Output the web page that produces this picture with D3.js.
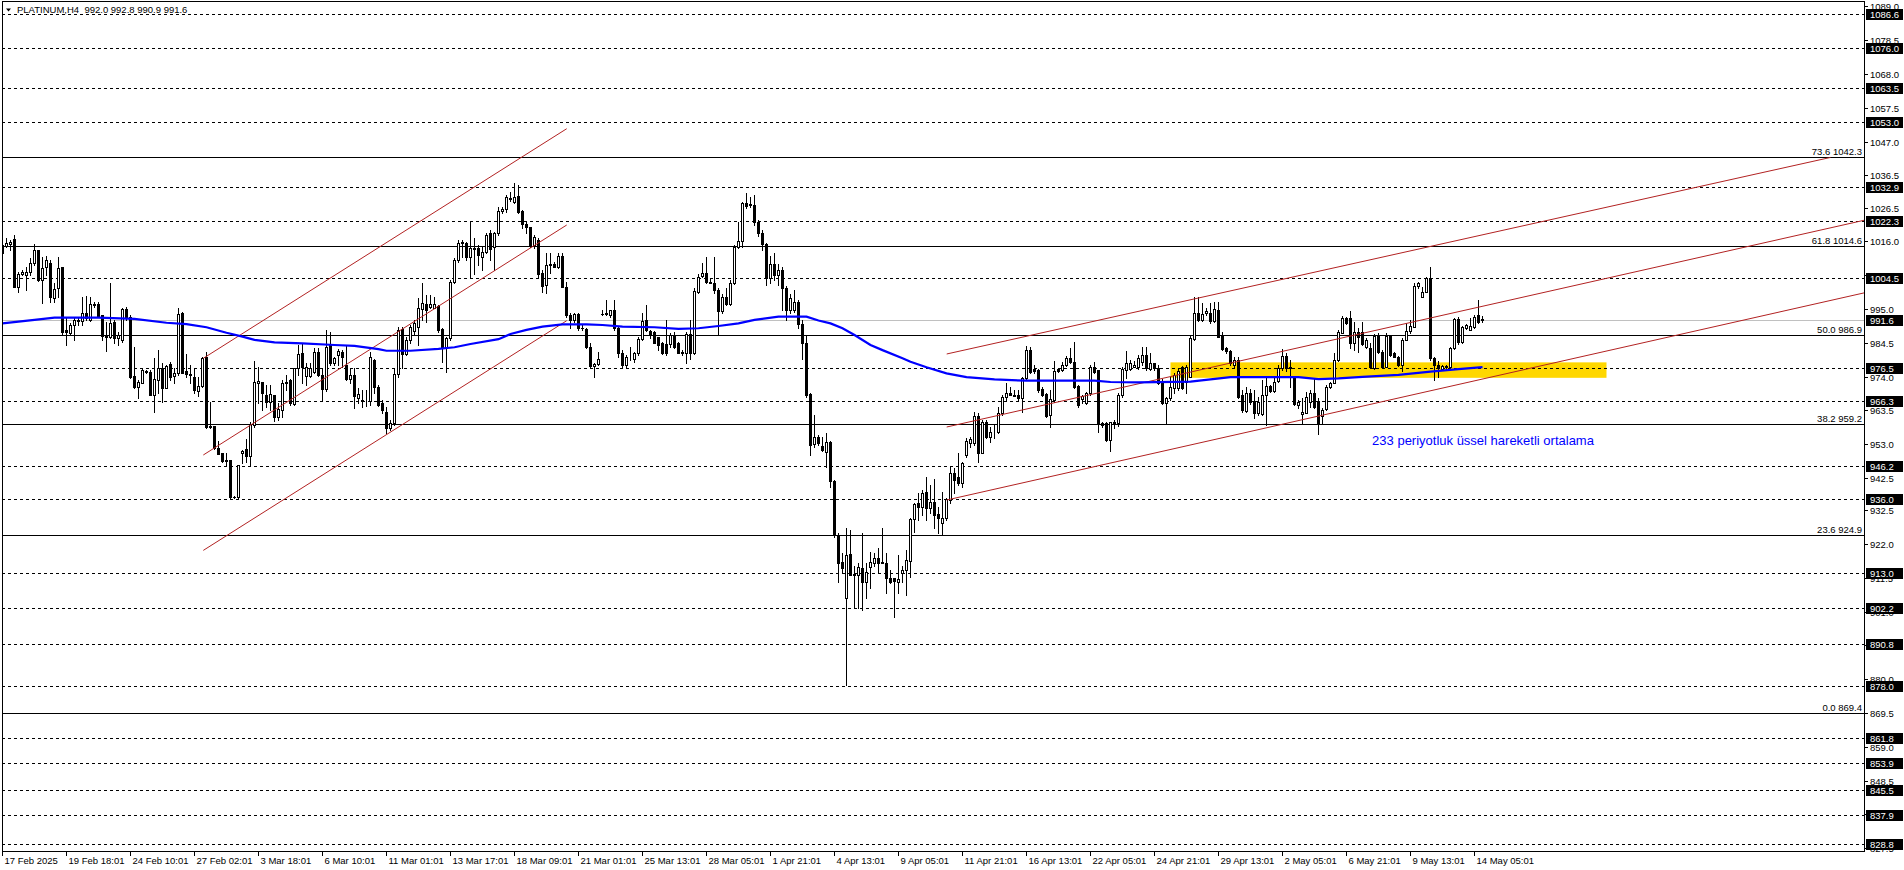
<!DOCTYPE html>
<html><head><meta charset="utf-8">
<script src="https://cdn.jsdelivr.net/npm/d3@7"></script>
<style>
html,body{margin:0;padding:0;background:#fff;overflow:hidden}
svg{display:block}
text{font-family:"Liberation Sans",Arial,sans-serif}
</style>
</head><body>
<svg id="chart" width="1904" height="870"></svg>
<script>
// ---------------- DATA ----------------
const symbolTitle = "PLATINUM,H4";
const opens = [
1012.3,1014.5,1015.3,1016.6,1001.9,1005.9,1005.6,1006.6,1009.4,1013.3,
1004.0,1007.9,1009.2,998.3,1001.4,1007.9,988.5,987.4,990.0,991.1,
991.4,993.8,991.6,996.5,996.5,993.1,986.9,986.2,991.0,985.9,
985.2,994.9,992.6,974.2,970.9,972.1,975.8,975.5,968.3,972.9,
976.6,970.4,977.9,974.2,975.0,993.8,975.7,974.7,973.8,969.6,
971.0,980.0,958.5,958.6,951.7,950.1,948.1,948.1,936.7,936.7,
950.2,951.4,949.3,959.0,971.9,972.2,968.3,966.2,968.3,961.5,
963.6,972.1,972.9,965.5,976.6,981.4,974.2,974.2,975.5,981.7,
974.5,970.0,984.1,978.1,980.7,981.7,977.6,973.1,974.5,967.2,
966.8,966.6,966.5,979.0,970.6,965.7,963.1,957.9,959.5,974.8,
988.7,981.0,985.4,988.0,989.5,995.0,996.5,995.5,995.2,995.9,
988.7,983.3,985.9,1003.5,1010.2,1015.6,1015.6,1011.2,1013.8,1013.8,
1011.2,1012.8,1018.5,1014.3,1018.7,1025.5,1025.9,1029.5,1028.3,1030.1,
1025.4,1021.4,1020.3,1014.8,1016.4,1006.2,1002.4,1008.6,1008.9,1007.9,
1011.4,1001.9,993.1,991.6,993.4,989.2,988.9,983.1,977.3,977.9,
993.4,993.4,993.1,994.7,989.0,981.2,977.6,980.0,979.4,981.4,
985.6,991.6,988.0,987.7,986.4,984.3,984.0,984.2,986.6,984.3,
981.7,981.2,987.2,981.2,1000.4,1005.2,1006.3,1003.5,1002.9,1000.9,
994.2,998.8,996.6,1002.9,1014.3,1016.2,1027.8,1027.2,1027.3,1022.1,
1018.5,1015.2,1004.5,1009.0,1005.5,1007.0,1001.4,994.7,994.7,997.0,
990.3,984.3,968.6,953.1,955.1,952.4,950.7,953.8,941.4,924.8,
916.5,905.1,918.9,912.7,912.4,914.4,910.3,914.7,916.2,917.5,
916.3,916.0,911.3,911.3,910.3,912.9,913.9,916.8,929.6,934.6,
933.6,938.2,933.1,935.1,931.3,928.6,930.0,935.7,944.1,942.9,
940.8,949.6,953.3,953.3,961.8,950.4,960.0,955.3,957.0,956.9,
962.6,967.5,968.8,968.3,968.3,967.2,973.4,982.2,976.2,976.0,
970.0,968.6,962.1,966.7,976.2,976.0,977.6,979.7,978.6,971.1,
966.9,965.9,968.8,976.9,976.0,959.7,959.5,954.3,960.0,959.5,
968.3,976.0,976.2,977.1,976.9,978.6,980.7,976.2,978.1,976.6,
972.4,965.7,967.2,970.3,970.3,977.1,972.4,974.0,985.6,993.8,
991.6,993.6,993.8,991.4,994.7,986.9,982.8,982.0,977.6,979.1,
968.3,963.4,968.8,966.5,962.6,962.4,968.3,971.1,969.6,972.7,
976.6,980.4,976.5,973.4,965.2,962.4,962.8,966.2,968.8,966.5,
961.6,963.8,970.6,972.1,979.1,987.6,992.1,992.1,984.3,987.9,
987.9,983.3,982.8,976.6,986.6,981.7,977.1,986.6,981.2,980.2,
977.6,985.4,988.0,989.5,1002.1,998.8,1000.4,1004.5,979.7,977.6,
976.2,977.3,976.9,982.8,991.8,984.8,989.0,988.5,989.3,993.1,
992.0];
const highs = [
1017.2,1016.9,1016.4,1018.0,1006.6,1007.1,1008.1,1010.7,1015.1,1013.4,
1011.2,1011.4,1010.2,1002.9,1011.2,1008.1,992.1,990.7,992.1,992.6,
998.8,999.0,998.8,997.3,997.3,993.2,991.0,1002.9,991.6,987.9,
995.2,995.7,993.1,983.1,972.9,976.2,976.0,976.0,979.7,982.3,
978.1,977.6,978.5,976.5,995.2,994.1,981.0,977.6,976.5,974.0,
980.2,981.7,966.2,958.6,954.1,950.2,950.4,948.1,936.9,946.5,
951.2,954.5,960.0,978.9,977.1,972.4,971.4,971.4,968.3,965.7,
972.9,974.5,973.1,976.6,983.8,984.3,978.1,978.1,982.8,982.8,
976.5,988.5,987.9,980.2,982.5,982.3,983.8,976.5,976.5,970.4,
969.8,969.8,981.7,979.5,971.5,966.7,964.6,960.5,976.5,989.5,
989.5,986.4,990.0,991.6,998.3,1002.9,999.3,999.3,998.8,996.2,
989.0,986.4,1004.0,1010.7,1016.4,1016.4,1015.9,1022.1,1017.0,1014.9,
1014.3,1018.5,1019.5,1019.0,1026.8,1026.8,1030.4,1031.4,1034.0,1033.5,
1025.7,1022.1,1020.5,1018.0,1016.9,1007.1,1012.3,1012.3,1009.7,1012.3,
1012.3,1003.5,993.6,993.6,993.6,990.0,989.0,984.3,978.1,981.7,
994.7,997.8,994.7,997.8,989.5,982.3,980.7,983.3,981.7,986.4,
993.6,996.2,988.5,988.0,986.4,984.8,991.6,987.4,987.9,984.8,
982.3,987.9,991.6,1001.4,1006.0,1009.2,1011.2,1004.5,1011.2,1001.4,
999.6,1001.4,1004.0,1014.9,1022.1,1028.3,1030.9,1029.9,1030.4,1022.6,
1019.5,1015.4,1011.5,1012.5,1009.0,1008.0,1002.0,999.5,1001.0,997.8,
991.5,986.9,968.8,962.1,955.8,955.3,956.4,954.0,941.9,925.3,
919.1,926.8,926.3,915.0,916.0,925.3,916.0,919.6,919.1,920.6,
926.8,919.1,913.9,911.5,918.6,915.0,920.1,930.0,934.6,937.7,
938.8,942.9,940.3,942.1,933.6,938.2,936.2,945.8,945.5,950.2,
947.6,954.8,955.3,963.1,962.8,960.5,960.5,958.4,959.3,964.6,
968.3,971.9,970.9,969.8,969.8,973.9,983.5,983.3,977.6,976.2,
970.9,968.8,969.8,978.9,976.8,978.6,980.4,982.8,984.8,971.4,
968.3,969.3,977.6,978.6,976.0,960.0,960.0,960.0,960.5,968.8,
976.9,982.0,979.1,978.9,980.7,983.3,983.3,981.2,978.3,977.6,
973.1,967.7,974.0,975.0,976.5,977.3,977.6,986.9,998.8,998.8,
996.7,995.2,996.7,997.3,997.3,987.9,983.3,982.2,980.2,980.2,
969.8,970.9,970.0,969.8,967.7,972.9,974.0,971.4,973.4,977.6,
982.4,981.2,979.1,973.9,966.7,967.2,969.3,969.8,973.1,967.2,
964.1,971.4,972.4,981.4,988.5,992.8,992.6,994.5,991.0,989.0,
991.0,985.9,984.3,987.2,987.4,982.2,987.4,986.9,981.7,980.4,
985.9,990.5,991.6,1002.9,1003.5,1001.9,1004.8,1008.1,980.2,978.9,
977.6,977.6,983.3,992.1,992.6,989.7,990.3,992.1,993.1,997.8,
992.8];
const lows = [
1009.7,1014.3,1013.3,1001.9,1000.4,1005.6,1000.9,1005.6,1008.6,1003.8,
996.7,1005.6,997.2,997.2,998.8,986.9,983.8,986.9,985.4,990.0,
990.0,991.6,991.4,995.7,992.8,985.4,982.0,985.9,984.3,983.8,
984.8,991.6,973.5,970.4,967.2,971.9,975.0,968.3,963.1,968.8,
966.2,970.4,972.9,971.9,974.5,975.0,974.0,971.9,968.8,967.8,
970.6,957.9,958.0,951.4,950.0,947.6,946.6,936.4,936.4,936.4,
947.2,947.6,946.5,958.4,965.7,963.6,964.6,963.6,960.3,960.5,
961.5,969.8,965.2,965.2,974.5,971.9,971.4,973.9,975.2,974.2,
966.5,969.6,977.6,977.6,977.6,977.1,973.0,971.9,964.1,965.7,
964.6,964.8,965.2,969.0,965.0,962.6,956.4,957.4,959.0,974.0,
976.5,980.7,984.3,987.0,983.8,991.6,991.0,995.2,995.2,987.9,
978.6,975.5,985.4,1002.9,1009.7,1011.2,1010.2,1004.5,1006.0,1008.6,
1007.1,1012.3,1010.2,1007.1,1018.0,1024.7,1025.2,1028.6,1028.0,1024.7,
1020.0,1018.5,1014.3,1013.8,1005.0,1000.4,999.8,1006.2,1007.9,1007.6,
1001.7,992.6,989.0,991.0,988.5,988.5,982.8,976.5,974.0,977.6,
993.1,993.1,992.6,988.5,980.2,976.5,976.5,979.2,978.6,980.7,
985.4,988.0,985.9,984.3,982.3,981.0,980.7,983.3,982.8,981.2,
980.7,978.1,979.6,981.0,999.8,1005.0,1003.0,1003.0,999.8,987.0,
993.6,996.3,996.3,1002.7,1013.8,1014.3,1026.3,1026.8,1021.1,1017.5,
1013.3,1002.5,1003.0,1004.0,1002.5,994.7,991.6,993.6,994.1,989.0,
979.6,967.7,949.6,952.2,952.7,951.0,946.0,939.8,924.3,910.3,
912.9,878.2,912.4,902.0,902.0,901.5,905.1,908.2,915.0,912.9,
916.0,906.7,909.8,899.4,906.7,910.3,906.2,911.8,925.8,929.4,
931.0,929.4,931.5,926.8,925.5,924.8,929.4,934.7,937.7,940.3,
939.8,949.1,952.2,952.7,947.6,950.2,954.8,953.8,954.8,956.6,
962.1,966.7,968.3,967.8,966.7,963.1,972.9,975.0,975.2,969.3,
967.8,961.3,958.4,966.2,975.5,975.8,977.3,978.1,970.3,964.6,
965.7,965.5,968.3,975.0,956.9,958.4,954.1,951.0,957.9,958.5,
967.7,973.5,976.0,976.9,976.2,977.6,976.0,976.0,976.0,971.7,
965.5,959.5,966.7,968.8,969.8,970.0,969.0,973.9,985.4,991.1,
991.1,993.1,990.7,991.0,986.2,982.2,981.2,977.6,976.9,967.2,
963.1,963.1,965.5,961.0,962.1,962.1,958.9,969.3,969.3,972.4,
976.0,975.8,970.9,965.2,964.1,959.5,962.6,964.6,964.1,956.2,
959.5,963.6,970.3,971.9,978.8,987.4,990.3,982.8,982.2,981.7,
983.8,982.8,976.6,976.2,981.2,976.9,976.9,980.4,980.0,977.3,
975.8,985.2,987.4,989.3,1001.4,998.6,1000.1,979.1,972.9,974.0,
976.0,976.2,976.5,982.5,984.1,984.5,988.7,988.3,989.0,990.7,
990.9];
const closes = [
1014.8,1015.6,1015.9,1001.9,1006.0,1006.5,1006.6,1009.4,1013.3,1004.0,
1007.6,1010.2,998.8,1001.1,1007.6,987.9,987.7,990.0,991.6,991.6,
993.6,992.1,996.5,996.2,992.8,986.6,986.2,990.5,985.9,986.9,
994.9,992.1,974.0,970.9,972.4,976.0,975.5,968.3,973.1,976.6,
970.4,977.3,974.0,975.2,993.4,975.2,974.7,974.4,969.8,971.0,
979.7,958.2,958.2,951.7,950.0,947.9,947.9,936.7,936.6,946.5,
951.0,949.3,959.3,972.4,972.6,969.0,966.2,968.6,961.5,963.8,
972.1,972.4,965.7,976.6,981.0,977.1,977.1,976.6,981.7,974.5,
970.0,983.3,978.1,979.7,981.8,980.2,973.1,974.5,967.8,968.6,
966.5,966.8,980.0,970.6,965.2,963.6,957.9,959.7,974.8,988.5,
981.0,985.4,989.5,990.5,995.2,996.7,994.7,996.5,996.5,988.5,
983.3,985.9,1003.5,1010.2,1015.6,1015.9,1011.2,1013.8,1013.5,1011.8,
1012.8,1018.0,1013.5,1018.5,1025.5,1025.9,1029.7,1029.0,1029.7,1025.2,
1021.4,1020.3,1014.6,1017.4,1006.0,1002.1,1008.6,1008.9,1007.9,1011.4,
1001.9,993.1,991.6,993.4,989.0,989.0,983.1,977.3,977.9,979.3,
993.4,993.6,994.7,989.0,981.2,977.6,980.0,980.2,981.4,985.6,
991.3,988.5,986.9,984.5,983.8,981.4,981.2,986.9,983.3,981.4,
981.2,987.2,981.2,1000.7,1005.0,1006.3,1003.5,1003.0,1000.9,994.2,
998.8,996.6,1002.9,1014.3,1016.2,1027.8,1027.0,1027.6,1022.1,1018.5,
1015.2,1004.5,1009.0,1005.5,1007.0,1001.4,994.7,998.5,997.0,990.3,
984.3,968.3,952.7,955.1,953.5,951.2,953.6,941.4,924.8,916.0,
914.4,918.6,912.4,912.4,914.7,910.3,913.4,916.5,917.5,916.0,
916.0,911.3,910.3,910.6,911.0,913.9,917.0,929.6,934.4,933.6,
937.9,933.1,935.1,931.0,930.0,930.0,935.9,944.1,941.9,941.0,
947.0,954.1,954.5,961.8,950.4,960.0,955.3,956.9,957.2,962.6,
967.5,968.8,968.3,968.0,967.2,973.4,982.2,975.5,975.8,969.8,
968.3,961.8,966.9,975.8,975.8,977.6,979.7,978.6,970.6,965.2,
968.0,968.8,976.9,975.5,959.5,959.0,954.3,960.0,959.3,968.3,
976.2,978.3,978.3,977.6,979.7,980.7,976.5,978.1,976.6,971.9,
965.7,967.2,970.9,974.5,975.8,970.3,977.1,985.9,993.8,991.6,
993.4,994.5,991.4,994.9,986.4,982.5,982.0,978.3,979.1,967.7,
963.6,968.8,966.2,962.6,966.2,968.3,971.1,969.6,972.4,976.6,
980.4,976.6,977.1,965.5,966.2,963.1,967.7,968.8,964.4,959.7,
963.6,970.9,972.1,979.1,987.9,992.1,990.7,984.3,987.9,986.2,
984.0,985.4,977.1,986.6,981.7,977.1,986.6,980.7,980.2,977.6,
985.4,988.2,989.7,1002.1,1002.9,1000.4,1004.5,979.7,977.6,976.5,
977.3,976.9,982.8,991.8,984.8,989.3,990.0,989.7,992.6,991.0,
991.6];

// 233-period EMA at selected bars
const emaBars = [0,8,13,24,33,41,46,51,56,60,63,68,75,83,88,94,96,102,109,113,117,124,127,131,135,140,146,150,155,163,169,174,179,184,188,194,201,204,207,210,213,217,220,225,227,231,236,241,248,256,273,277,284,297,307,324,329,334,340,349,357,364,370];
const emaValues = [990.5,991.6,992.3,992.3,991.9,990.7,990.3,989.3,987.6,986.4,985.4,984.6,984.3,983.8,983.5,982.5,982.0,982.0,982.6,983.1,984.1,985.6,987.2,988.5,989.5,990.2,990.2,990.0,989.5,989.3,988.8,989.0,989.7,990.5,991.6,992.6,992.6,991.4,990.5,989.0,986.9,983.8,982.2,979.7,978.6,976.9,975.0,973.8,973.1,972.7,972.7,972.3,972.2,972.4,973.8,973.8,973.2,973.4,973.9,974.5,975.5,976.3,976.9];

const timeLabels = ["17 Feb 2025","19 Feb 18:01","24 Feb 10:01","27 Feb 02:01","3 Mar 18:01","6 Mar 10:01","11 Mar 01:01","13 Mar 17:01","18 Mar 09:01","21 Mar 01:01","25 Mar 13:01","28 Mar 05:01","1 Apr 21:01","4 Apr 13:01","9 Apr 05:01","11 Apr 21:01","16 Apr 13:01","22 Apr 05:01","24 Apr 21:01","29 Apr 13:01","2 May 05:01","6 May 21:01","9 May 13:01","14 May 05:01"];
const timeLabelBars = [0,16,32,48,64,80,96,112,128,144,160,176,192,208,224,240,256,272,288,304,320,336,352,368];

const priceTicks = [1089.0,1078.5,1068.0,1057.5,1047.0,1036.5,1026.5,1016.0,1005.5,995.0,984.5,974.0,963.5,953.0,942.5,932.5,922.0,911.5,901.0,890.5,880.0,869.5,859.0,848.5,838.0,827.5];
const dashedLevels = [1086.6,1076.0,1063.5,1053.0,1032.9,1022.3,1004.5,976.5,966.3,946.2,936.0,913.0,902.2,890.8,878.0,861.8,853.9,845.5,837.9,828.8];
const currentPrice = 991.6;
const fibRatios = ["73.6","61.8","50.0","38.2","23.6","0.0"];
const fibPrices = [1042.3,1014.6,986.9,959.2,924.9,869.4];

// trend lines: [bar1, price1, bar2, price2]
const channelLines = [
  [50.2, 979.66, 141.05, 1050.97],
  [50.2, 949.63, 141.05, 1021.06],
  [50.2, 920.0, 141.05, 991.34],
  [236.05, 981.0, 457.0, 1042.05],
  [236.05, 958.32, 466.0, 1022.7],
  [236.05, 935.65, 466.0, 1000.15]
];
const zoneBars = [292, 401];
const zonePrices = [973.6, 978.4];
const emaNote = "233 periyotluk üssel hareketli ortalama";
const emaNoteBar = 342.4, emaNotePrice = 952.6;

// ---------------- DRAW ----------------
const plotRight = 1864, plotBottom = 851;
const FS = "9.5px";
const svg = d3.select("#chart");
const x = d3.scaleLinear().domain([0, (plotRight - 2.5) / 4]).range([2.5, plotRight]);
const y = d3.scaleLinear().domain([826.63, 1090.95]).range([plotBottom, 0]);
const cr = v => Math.round(v) + 0.5;
const fmt = d3.format(".1f");

svg.append("rect").attr("width",1904).attr("height",870).attr("fill","#fff");
svg.append("defs").append("clipPath").attr("id","plot")
  .append("rect").attr("x",2).attr("y",1).attr("width",plotRight-2).attr("height",plotBottom-1);
const g = svg.append("g").attr("clip-path","url(#plot)");

// yellow zone
g.append("rect")
  .attr("x", x(zoneBars[0])).attr("width", x(zoneBars[1]) - x(zoneBars[0]))
  .attr("y", y(zonePrices[1])).attr("height", y(zonePrices[0]) - y(zonePrices[1]))
  .attr("fill","#ffd700");

// dashed levels
g.selectAll("line.dash").data(dashedLevels).join("line").attr("class","dash")
  .attr("x1",2).attr("x2",plotRight).attr("y1",d=>cr(y(d))).attr("y2",d=>cr(y(d)))
  .attr("stroke","#000").attr("stroke-width",1).attr("stroke-dasharray","3,3");

// current price line
g.append("line").attr("x1",2).attr("x2",plotRight)
  .attr("y1",cr(y(currentPrice))).attr("y2",cr(y(currentPrice)))
  .attr("stroke","#c0c0c0").attr("stroke-width",1);

// fib lines
g.selectAll("line.fib").data(fibPrices).join("line").attr("class","fib")
  .attr("x1",2).attr("x2",plotRight).attr("y1",d=>cr(y(d))).attr("y2",d=>cr(y(d)))
  .attr("stroke","#000").attr("stroke-width",1);
g.selectAll("text.fib").data(fibPrices).join("text").attr("class","fib")
  .attr("x",1862).attr("y",d=>Math.round(y(d))-2).attr("text-anchor","end")
  .attr("font-size",FS).attr("fill","#000")
  .text((d,i)=>fibRatios[i]+" "+fmt(d));

// candles
const n = Math.min(opens.length, highs.length, lows.length, closes.length);
const idx = d3.range(n);
const cg = g.append("g");
cg.selectAll("line.wick").data(idx).join("line").attr("class","wick")
  .attr("x1",i=>x(i)).attr("x2",i=>x(i))
  .attr("y1",i=>Math.round(y(highs[i]))).attr("y2",i=>Math.round(y(lows[i]))+1)
  .attr("stroke","#000").attr("stroke-width",1);
cg.selectAll("rect.body").data(idx).join("rect").attr("class","body")
  .each(function(i){
    const o = Math.round(y(opens[i])), c = Math.round(y(closes[i]));
    const sel = d3.select(this);
    if (closes[i] > opens[i]) {
      sel.attr("x", x(i)-1).attr("width",2).attr("y", c+0.5).attr("height", Math.max(0, o-c))
         .attr("fill","#fff").attr("stroke","#000").attr("stroke-width",1);
    } else {
      sel.attr("x", x(i)-1.5).attr("width",3).attr("y", o).attr("height", Math.max(1, c-o+1))
         .attr("fill","#000");
    }
  });

// channel trend lines
g.selectAll("line.trend").data(channelLines).join("line").attr("class","trend")
  .attr("x1",d=>x(d[0])).attr("y1",d=>y(d[1])).attr("x2",d=>x(d[2])).attr("y2",d=>y(d[3]))
  .attr("stroke","#b22222").attr("stroke-width",1);

// EMA
const emaPts = emaBars.map((b,i)=>[b, emaValues[i]]);
g.append("path").datum(emaPts)
  .attr("d", d3.line().x(d=>x(d[0])).y(d=>y(d[1])))
  .attr("fill","none").attr("stroke","#0000ff").attr("stroke-width",2.2);

// note
g.append("text").attr("x",x(emaNoteBar)).attr("y",y(emaNotePrice))
  .attr("font-size","13px").attr("fill","#0000ff").text(emaNote);

// title
const last = n-1;
svg.append("path").attr("d","M6,8.5L11,8.5L8.5,11.5Z").attr("fill","#000");
svg.append("text").attr("x",17).attr("y",13).attr("font-size",FS).style("white-space","pre")
  .text(symbolTitle+"  "+[opens[last],highs[last],lows[last],closes[last]].map(fmt).join(" "));

// borders
svg.append("line").attr("x1",2).attr("x2",plotRight).attr("y1",1.5).attr("y2",1.5).attr("stroke","#000");
svg.append("line").attr("x1",2.5).attr("x2",2.5).attr("y1",1).attr("y2",plotBottom+1).attr("stroke","#000");
svg.append("line").attr("x1",plotRight+0.5).attr("x2",plotRight+0.5).attr("y1",1).attr("y2",plotBottom+1).attr("stroke","#000");
svg.append("line").attr("x1",2).attr("x2",plotRight+1).attr("y1",plotBottom+0.5).attr("y2",plotBottom+0.5).attr("stroke","#000");

// price axis
const ax = svg.append("g");
ax.selectAll("line.pt").data(priceTicks).join("line").attr("class","pt")
  .attr("x1",plotRight).attr("x2",plotRight+4).attr("y1",d=>cr(y(d))).attr("y2",d=>cr(y(d))).attr("stroke","#000");
ax.selectAll("text.pt").data(priceTicks).join("text").attr("class","pt")
  .attr("x",plotRight+6).attr("y",d=>Math.round(y(d))+4).attr("font-size",FS).attr("fill","#000")
  .text(d=>fmt(d));
const boxLevels = dashedLevels.concat([currentPrice]);
ax.selectAll("rect.bx").data(boxLevels).join("rect").attr("class","bx")
  .attr("x",plotRight+2).attr("y",d=>Math.round(y(d))-5).attr("width",37).attr("height",11).attr("fill","#000");
ax.selectAll("text.bx").data(boxLevels).join("text").attr("class","bx")
  .attr("x",plotRight+6).attr("y",d=>Math.round(y(d))+4).attr("font-size",FS).attr("fill","#fff")
  .text(d=>fmt(d));

// time axis
const tx = svg.append("g");
tx.selectAll("line").data(timeLabelBars).join("line")
  .attr("x1",d=>x(d)).attr("x2",d=>x(d)).attr("y1",plotBottom).attr("y2",plotBottom+5).attr("stroke","#000");
tx.selectAll("text").data(timeLabelBars).join("text")
  .attr("x",d=>x(d)+2).attr("y",plotBottom+13).attr("font-size",FS).attr("fill","#000")
  .text((d,i)=>timeLabels[i]);
</script>
</body></html>
